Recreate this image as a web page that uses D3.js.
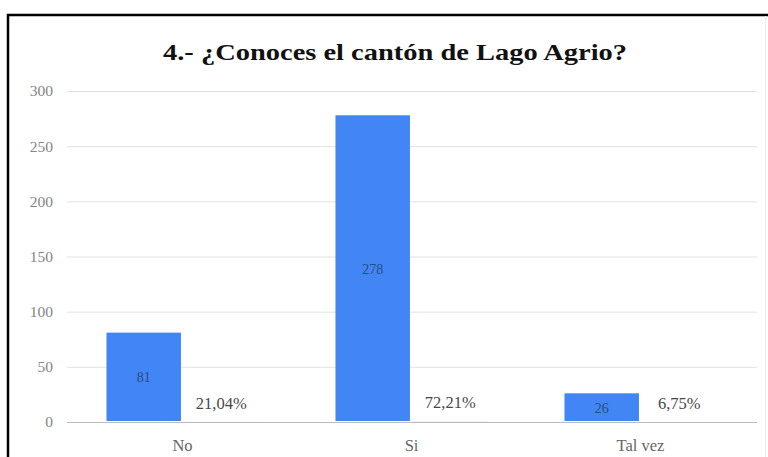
<!DOCTYPE html>
<html>
<head>
<meta charset="utf-8">
<script src="https://cdn.jsdelivr.net/npm/d3@7"></script>
<style>
html,body{margin:0;padding:0;background:#fff;}
svg{display:block;}
</style>
</head>
<body>
<svg id="chart" width="768" height="457"></svg>
<script>
const title = "4.- ¿Conoces el cantón de Lago Agrio?";
const categories = ["No", "Si", "Tal vez"];
const counts = [81, 278, 26];
const percents = [0.2104, 0.7221, 0.0675];
const percentLabels = ["21,04%", "72,21%", "6,75%"];
const yTicks = [0, 50, 100, 150, 200, 250, 300];
const seriesKeys = ["count", "pct"];

const FONT = "Liberation Serif";
const svg = d3.select("#chart");

// frame
svg.append("line").attr("x1", 7).attr("x2", 768).attr("y1", 15).attr("y2", 15)
  .attr("stroke", "#000").attr("stroke-width", 2.5);
svg.append("line").attr("x1", 8).attr("x2", 8).attr("y1", 14).attr("y2", 457)
  .attr("stroke", "#000").attr("stroke-width", 2.5);
svg.append("line").attr("x1", 765.5).attr("x2", 765.5).attr("y1", 16).attr("y2", 457)
  .attr("stroke", "#eee").attr("stroke-width", 1);

const x = d3.scaleBand().domain(categories).range([68, 755]).paddingInner(0.336).paddingOuter(0.168);
const x1 = d3.scaleBand().domain(seriesKeys).range([0, x.bandwidth()]).paddingInner(0.04);
const y = d3.scaleLinear().domain([0, 300]).range([422, 91]);

// title (slightly stretched horizontally, as in the reference)
svg.append("text").attr("x", 163).attr("y", 59.5)
  .attr("font-family", FONT).attr("font-weight", "bold").attr("font-size", 24)
  .attr("textLength", 464).attr("lengthAdjust", "spacingAndGlyphs")
  .attr("fill", "#111").text(title);

// y axis + grid
const yAxis = d3.axisLeft(y).tickValues(yTicks).tickSize(0).tickPadding(0);
const gy = svg.append("g").attr("transform", "translate(53,0)").call(yAxis)
  .attr("font-family", FONT).attr("font-size", 15.5);
gy.select(".domain").remove();
gy.selectAll("text").attr("fill", "#858585");

const grid = d3.axisLeft(y).tickValues(yTicks).tickSize(-(757 - 67)).tickFormat("");
const gg = svg.append("g").attr("transform", "translate(67,0)").call(grid);
gg.select(".domain").remove();
gg.selectAll("line").attr("stroke", d => d === 0 ? "#bbb" : "#e2e2e2").attr("stroke-width", 1);

// bars
const groups = svg.append("g").selectAll("g").data(categories).join("g")
  .attr("transform", d => `translate(${x(d)},0)`);

groups.append("rect")
  .attr("x", x1("count"))
  .attr("width", x1.bandwidth())
  .attr("y", (d, i) => y(counts[i]))
  .attr("height", (d, i) => y(0) - y(counts[i]) - 1)
  .attr("fill", "#4285f4");

groups.append("rect")
  .attr("x", x1("pct"))
  .attr("width", x1.bandwidth())
  .attr("y", (d, i) => y(percents[i]))
  .attr("height", (d, i) => y(0) - y(percents[i]))
  .attr("fill", "#4285f4").attr("fill-opacity", 0.12);

groups.append("text")
  .attr("x", x1("count") + x1.bandwidth() / 2)
  .attr("y", (d, i) => (y(counts[i]) + y(0)) / 2 + 5)
  .attr("text-anchor", "middle")
  .attr("font-family", FONT).attr("font-size", 14).attr("fill", "#2a4a85")
  .text((d, i) => counts[i]);

groups.append("text")
  .attr("x", x1("pct") + x1.bandwidth() / 2)
  .attr("y", (d, i) => y(percents[i]) - 13)
  .attr("text-anchor", "middle")
  .attr("font-family", FONT).attr("font-size", 16.5).attr("fill", "#474747")
  .text((d, i) => percentLabels[i]);

// x axis labels
const xAxis = d3.axisBottom(x).tickSize(0).tickPadding(0);
const gx = svg.append("g").attr("transform", "translate(0,439)").call(xAxis)
  .attr("font-family", FONT).attr("font-size", 16.5);
gx.select(".domain").remove();
gx.selectAll("text").attr("fill", "#666");
</script>
</body>
</html>
